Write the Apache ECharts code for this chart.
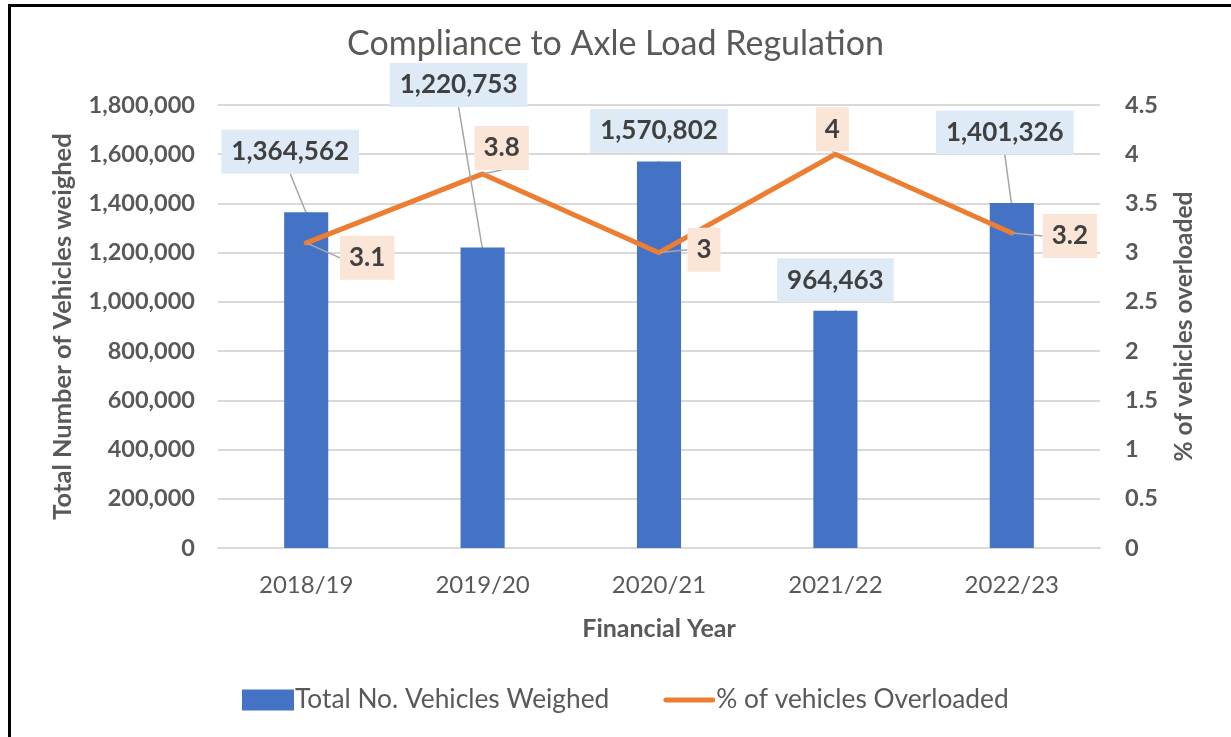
<!DOCTYPE html>
<html>
<head>
<meta charset="utf-8">
<script src="https://cdn.jsdelivr.net/npm/echarts@6/dist/echarts.min.js"></script>
<style>
html,body{margin:0;padding:0;background:#fff;}
#chart{width:1231px;height:737px;position:absolute;left:0;top:0;}
#frame{position:absolute;left:8px;top:4px;width:1240px;height:760px;border-left:3px solid #000;border-top:3px solid #000;pointer-events:none;}
</style>
</head>
<body>
<div id="chart"></div>
<div id="frame"></div>
<script>
const categories = ['2018/19', '2019/20', '2020/21', '2021/22', '2022/23'];
const vehiclesWeighed = [1364562, 1220753, 1570802, 964463, 1401326];
const pctOverloaded = [3.1, 3.8, 3.0, 4.0, 3.2];
const leftTicks = { min: 0, max: 1800000, interval: 200000 };
const rightTicks = { min: 0, max: 4.5, interval: 0.5 };

// label offsets (pixels) relative to default label position, and whether a leader line is drawn
const barLabelShift = [[-16, -30], [-24, -132], [0, 0], [0, 0], [-7, -40]];
const barLabelLine = [true, true, false, false, true];
const lineLabelShift = [[61, 46], [19, 5], [45, 28], [-3, 6], [58, 34]];

const fmt = v => Number(v).toLocaleString('en-US');
const FONT = 'Lato, "Open Sans", sans-serif';
const grey = '#595959';
const leader = { color: '#A6A6A6', width: 1.5 };

const chart = echarts.init(document.getElementById('chart'), null, { renderer: 'canvas' });
chart.setOption({
  animation: false,
  textStyle: { fontFamily: FONT },
  title: {
    text: 'Compliance to Axle Load Regulation',
    left: 'center', top: 22,
    textStyle: { fontFamily: FONT, fontSize: 34, fontWeight: 'normal', color: grey }
  },
  legend: {
    bottom: 24, left: 242, padding: 0, itemGap: 54, itemWidth: 52, itemHeight: 21,
    textStyle: { fontFamily: FONT, fontSize: 26.3, color: grey, padding: [0, 0, 0, -4] },
    data: [
      { name: 'Total No. Vehicles Weighed', icon: 'rect' },
      { name: '% of vehicles Overloaded', icon: 'path://M2,0 L50,0 A2.5,2.5 0 0 1 50,5 L2,5 A2.5,2.5 0 0 1 2,0 Z' }
    ]
  },
  grid: { left: 218, right: 131, top: 105, bottom: 189 },
  xAxis: {
    type: 'category', data: categories,
    name: 'Financial Year', nameLocation: 'middle', nameGap: 68,
    nameTextStyle: { fontFamily: FONT, fontSize: 25, fontWeight: 'bold', color: grey },
    axisLine: { lineStyle: { color: '#D9D9D9', width: 2 } },
    axisTick: { show: false },
    axisLabel: { fontFamily: FONT, fontSize: 24, color: grey, margin: 25 }
  },
  yAxis: [
    {
      type: 'value', min: leftTicks.min, max: leftTicks.max, interval: leftTicks.interval,
      name: 'Total Number of Vehicles weighed', nameLocation: 'middle', nameGap: 142, nameRotate: 90,
      nameTextStyle: { fontFamily: FONT, fontSize: 25.5, fontWeight: 'bold', color: grey },
      axisLine: { show: false }, axisTick: { show: false },
      axisLabel: { fontFamily: FONT, fontSize: 23.5, fontWeight: 'bold', color: grey, margin: 23, formatter: fmt },
      splitLine: { lineStyle: { color: '#D9D9D9', width: 2 } }
    },
    {
      type: 'value', min: rightTicks.min, max: rightTicks.max, interval: rightTicks.interval,
      name: '% of vehicles overloaded', nameLocation: 'middle', nameGap: 72, nameRotate: 90,
      nameTextStyle: { fontFamily: FONT, fontSize: 24.5, fontWeight: 'bold', color: grey },
      axisLine: { show: false }, axisTick: { show: false },
      axisLabel: { fontFamily: FONT, fontSize: 23.5, fontWeight: 'bold', color: grey, margin: 25 },
      splitLine: { show: false }
    }
  ],
  series: [
    {
      name: 'Total No. Vehicles Weighed', type: 'bar', yAxisIndex: 0,
      data: vehiclesWeighed, barWidth: '25%',
      itemStyle: { color: '#4472C4' },
      z: 2
    },
    {
      // data labels of the bars, anchored at the top centre of each bar
      name: 'barValueLabels', type: 'scatter', yAxisIndex: 0,
      data: vehiclesWeighed.map((v, i) => ({ value: v, labelLine: { show: barLabelLine[i] } })),
      symbol: 'rect', symbolSize: 1, itemStyle: { color: '#4472C4', opacity: 1 },
      silent: true, tooltip: { show: false },
      label: {
        show: true, position: 'top', distance: 8, formatter: p => fmt(p.value),
        fontFamily: FONT, fontSize: 26, fontWeight: 'bold', color: '#404040',
        backgroundColor: '#DEEBF7', padding: [9, 10, 9, 10]
      },
      labelLine: { show: true, lineStyle: leader },
      labelLayout: p => ({ dx: barLabelShift[p.dataIndex][0], dy: barLabelShift[p.dataIndex][1] }),
      z: 4
    },
    {
      name: '% of vehicles Overloaded', type: 'line', yAxisIndex: 1,
      data: pctOverloaded, symbol: 'circle', symbolSize: 2, showSymbol: true,
      lineStyle: { color: '#ED7D31', width: 5, cap: 'round', join: 'round' }, itemStyle: { color: '#ED7D31' },
      label: {
        show: true, position: 'top', distance: 8,
        fontFamily: FONT, fontSize: 26, fontWeight: 'bold', color: '#404040',
        backgroundColor: '#FBE5D6', padding: [9, 9, 9, 9]
      },
      labelLine: { show: true, lineStyle: leader },
      labelLayout: p => ({ dx: lineLabelShift[p.dataIndex][0], dy: lineLabelShift[p.dataIndex][1] }),
      z: 3
    }
  ]
});
</script>
</body>
</html>
